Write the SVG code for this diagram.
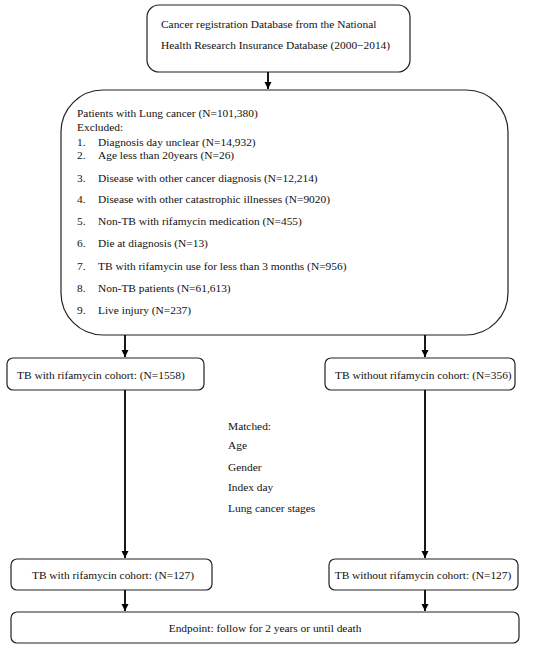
<svg xmlns="http://www.w3.org/2000/svg" width="550" height="649" viewBox="0 0 550 649">
<defs>
<marker id="ah" viewBox="0 0 10 10" refX="10" refY="5" markerWidth="4" markerHeight="4" orient="auto" markerUnits="strokeWidth">
<path d="M0,0 L10,5 L0,10 z" fill="#000"/>
</marker>
<style>
.box{fill:#fff;stroke:#222;stroke-width:1.2}
text{font-family:"Liberation Serif","Times New Roman",serif;font-size:11.4px;fill:#111}
.c{text-anchor:middle}
.conn line{stroke:#000;stroke-width:1.8;marker-end:url(#ah)}
</style>
</defs>
<rect width="550" height="649" fill="#fff"/>
<g id="n-source">
<rect class="box" x="147" y="5" width="263" height="67" rx="12"/>
<text x="161" y="28">Cancer registration Database from the National</text>
<text x="161" y="49">Health Research Insurance Database (2000−2014)</text>
</g>
<g id="n-lung">
<rect class="box" x="61" y="90" width="447" height="245" rx="42"/>
<text x="77" y="117">Patients with Lung cancer (N=101,380)</text>
<text x="77" y="131">Excluded:</text>
<text x="77" y="146">1.</text><text x="98" y="146">Diagnosis day unclear (N=14,932)</text>
<text x="77" y="159">2.</text><text x="98" y="159">Age less than 20years (N=26)</text>
<text x="77" y="182">3.</text><text x="98" y="182">Disease with other cancer diagnosis (N=12,214)</text>
<text x="77" y="203">4.</text><text x="98" y="203">Disease with other catastrophic illnesses (N=9020)</text>
<text x="77" y="225">5.</text><text x="98" y="225">Non-TB with rifamycin medication (N=455)</text>
<text x="77" y="247">6.</text><text x="98" y="247">Die at diagnosis (N=13)</text>
<text x="77" y="270">7.</text><text x="98" y="270">TB with rifamycin use for less than 3 months (N=956)</text>
<text x="77" y="292">8.</text><text x="98" y="292">Non-TB patients (N=61,613)</text>
<text x="77" y="314">9.</text><text x="98" y="314">Live injury (N=237)</text>
</g>
<g id="n-tb-rif">
<rect class="box" x="7" y="358" width="197" height="32" rx="6"/>
<text x="17" y="379">TB with rifamycin cohort: (N=1558)</text>
</g>
<g id="n-tb-norif">
<rect class="box" x="325" y="358" width="190" height="32" rx="6"/>
<text x="335" y="379">TB without rifamycin cohort: (N=356)</text>
</g>
<g id="n-matched">
<text x="228" y="430">Matched:</text>
<text x="228" y="449">Age</text>
<text x="228" y="471">Gender</text>
<text x="228" y="491">Index day</text>
<text x="228" y="512">Lung cancer stages</text>
</g>
<g id="n-rif-127">
<rect class="box" x="11" y="559" width="201" height="31" rx="6"/>
<text class="c" x="113" y="579">TB with rifamycin cohort: (N=127)</text>
</g>
<g id="n-norif-127">
<rect class="box" x="329" y="559" width="189" height="31" rx="6"/>
<text class="c" x="423" y="579">TB without rifamycin cohort: (N=127)</text>
</g>
<g id="n-endpoint">
<rect class="box" x="11" y="612" width="508" height="31" rx="6"/>
<text class="c" x="265" y="632">Endpoint: follow for 2 years or until death</text>
</g>
<g id="connectors" class="conn">
<line x1="268" y1="72" x2="268" y2="89"/>
<line x1="125" y1="335" x2="125" y2="357"/>
<line x1="425" y1="335" x2="425" y2="357"/>
<line x1="125" y1="390" x2="125" y2="558"/>
<line x1="425" y1="390" x2="425" y2="558"/>
<line x1="125" y1="590" x2="125" y2="611"/>
<line x1="425" y1="590" x2="425" y2="611"/>
</g>
</svg>
